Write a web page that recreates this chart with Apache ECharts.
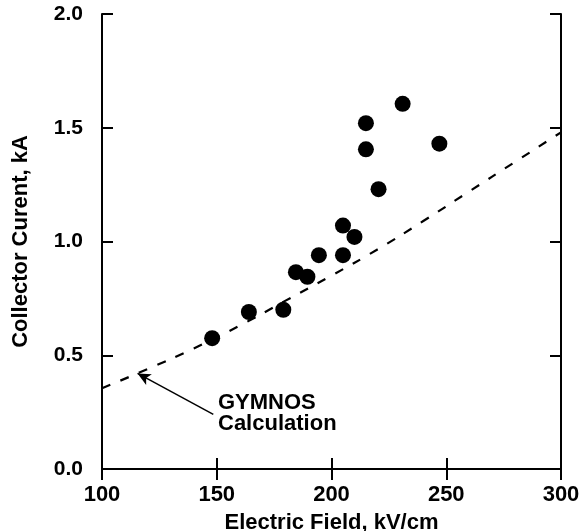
<!DOCTYPE html>
<html>
<head>
<meta charset="utf-8">
<script src="https://cdn.jsdelivr.net/npm/echarts@6/dist/echarts.min.js"></script>
<style>
  html, body { margin: 0; padding: 0; background: #fff; }
  #chart { width: 584px; height: 531px; }
</style>
</head>
<body>
<div id="chart"></div>
<script>
// measured points: electric field (kV/cm), collector current (kA)
var fieldData = [148, 164, 179, 184.5, 189.5, 194.5, 205, 205, 210, 215, 215, 220.5, 231, 247];
var currentData = [0.575, 0.69, 0.70, 0.865, 0.845, 0.94, 1.07, 0.94, 1.02, 1.52, 1.405, 1.23, 1.605, 1.43];

// GYMNOS calculation curve
var calcField = [100, 120, 140, 160, 180, 200, 220, 240, 260, 280, 300];
var calcCurrent = [0.355, 0.44, 0.53, 0.63, 0.74, 0.85, 0.965, 1.09, 1.22, 1.35, 1.48];

var xTicks = [100, 150, 200, 250, 300];
var yTicks = [0.0, 0.5, 1.0, 1.5, 2.0];

var font = '"Liberation Sans", Arial, Helvetica, sans-serif';

var chart = echarts.init(document.getElementById('chart'));

var points = fieldData.map(function (x, i) { return [x, currentData[i]]; });
var calc = calcField.map(function (x, i) { return [x, calcCurrent[i]]; });

var frameLine = { show: true, lineStyle: { color: '#000', width: 2 } };
var inTicks = { show: true, inside: true, length: 11, lineStyle: { color: '#000', width: 2 } };

var option = {
  backgroundColor: '#fff',
  animation: false,
  grid: { left: 102, right: 23, top: 14, bottom: 62, containLabel: false, outerBoundsMode: 'none' },
  xAxis: [
    {
      type: 'value', position: 'bottom',
      min: xTicks[0], max: xTicks[xTicks.length - 1], interval: 50,
      axisLine: frameLine, axisTick: inTicks, splitLine: { show: false },
      axisLabel: { color: '#000', fontFamily: font, fontWeight: 'bold', fontSize: 22, margin: 15 },
      name: 'Electric Field, kV/cm', nameLocation: 'middle', nameGap: 43,
      nameTextStyle: { color: '#000', fontFamily: font, fontWeight: 'bold', fontSize: 22 }
    },
    {
      type: 'value', position: 'top',
      min: xTicks[0], max: xTicks[xTicks.length - 1], interval: 50,
      axisLine: frameLine, axisTick: inTicks, splitLine: { show: false },
      axisLabel: { show: false }
    }
  ],
  yAxis: [
    {
      type: 'value', position: 'left',
      min: yTicks[0], max: yTicks[yTicks.length - 1], interval: 0.5,
      axisLine: frameLine, axisTick: inTicks, splitLine: { show: false },
      axisLabel: {
        color: '#000', fontFamily: font, fontWeight: 'bold', fontSize: 21, margin: 19,
        formatter: function (v) { return v.toFixed(1); }
      },
      name: 'Collector Curent, kA', nameLocation: 'middle', nameGap: 70,
      nameTextStyle: { color: '#000', fontFamily: font, fontWeight: 'bold', fontSize: 22 }
    },
    {
      type: 'value', position: 'right',
      min: yTicks[0], max: yTicks[yTicks.length - 1], interval: 0.5,
      axisLine: frameLine, axisTick: inTicks, splitLine: { show: false },
      axisLabel: { show: false }
    }
  ],
  series: [
    {
      type: 'line',
      data: calc,
      smooth: true,
      showSymbol: false,
      lineStyle: { color: '#000', width: 2.2, type: [9, 11] },
      markLine: {
        silent: true,
        symbol: ['none', 'arrow'],
        symbolSize: [9, 13],
        label: { show: false },
        lineStyle: { color: '#000', width: 1.5, type: 'solid' },
        data: [[{ coord: [148.5, 0.24] }, { coord: [115.5, 0.42] }]]
      },
      z: 2
    },
    {
      type: 'scatter',
      data: points,
      symbol: 'circle',
      symbolSize: 16,
      itemStyle: { color: '#000', opacity: 1 },
      z: 3
    }
  ],
  graphic: [
    {
      type: 'text', left: 218, top: 392,
      style: {
        text: 'GYMNOS\nCalculation',
        fill: '#000', font: 'bold 22px ' + font, lineHeight: 21
      }
    }
  ]
};

chart.setOption(option);
</script>
</body>
</html>
